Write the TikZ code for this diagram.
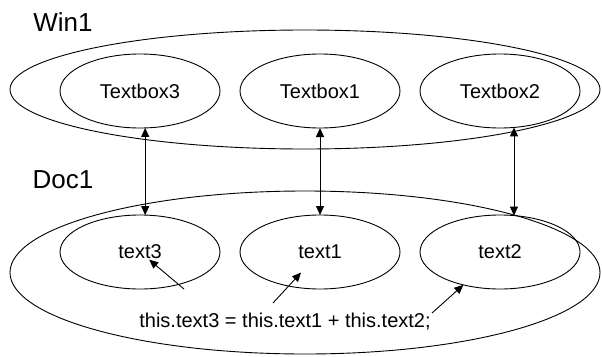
\documentclass[tikz,border=0pt]{standalone}
\usepackage{fontspec}
\setmainfont{Liberation Sans}
\usepackage{tikz}
\usetikzlibrary{shapes.geometric,arrows.meta}

\begin{document}
\begin{tikzpicture}[x=1pt,y=-1pt,line width=0.9pt,
        >={Triangle[width=8pt,length=9pt]},
        outerell/.style={ellipse,draw,inner sep=0pt,outer sep=0pt},
        innerell/.style={ellipse,draw,inner sep=0pt,outer sep=0pt,
            minimum width=160pt,minimum height=74pt,font=\fontsize{20}{24}\selectfont},
        grouplabel/.style={font=\fontsize{26}{30}\selectfont}]
        \useasboundingbox (0,0) rectangle (602,356);

        % window with its text boxes
        \node[grouplabel] (win) at (63,22) {Win1};
        \node[outerell,minimum width=590pt,minimum height=119pt] (winell) at (305,89.5) {};
        \node[innerell] (tb3) at (140,91) {Textbox3};
        \node[innerell] (tb1) at (320,91) {Textbox1};
        \node[innerell] (tb2) at (500,91) {Textbox2};

        % document with its fields
        \node[grouplabel] (doc) at (63,180) {Doc1};
        \node[outerell,minimum width=590pt,minimum height=163pt] (docell) at (305,272.5) {};
        \node[innerell] (t3) at (140,252) {text3};
        \node[innerell] (t1) at (320,252) {text1};
        \node[innerell] (t2) at (500,252) {text2};

        % bindings: text box <-> field
        \foreach \a/\b/\ang in {tb3/t3/82, tb1/t1/90, tb2/t2/69} {
            \draw[<->] (\a.-\ang) -- (\b.\ang);
        }

        % the script line and where its terms point
        \node[font=\fontsize{20}{24}\selectfont] (expr) at (285,322) {this.text3 = this.text1 + this.text2;};
        \coordinate (c3) at (184,289);
        \coordinate (c1) at (273,303);
        \coordinate (c2) at (432,313);
        \draw[->,shorten >=12pt] (c3) -- (t3.center);
        \draw[->,shorten >=28pt] (c1) -- (t1.center);
        \draw[->] (c2) -- (t2);
    \end{tikzpicture}
\end{document}
